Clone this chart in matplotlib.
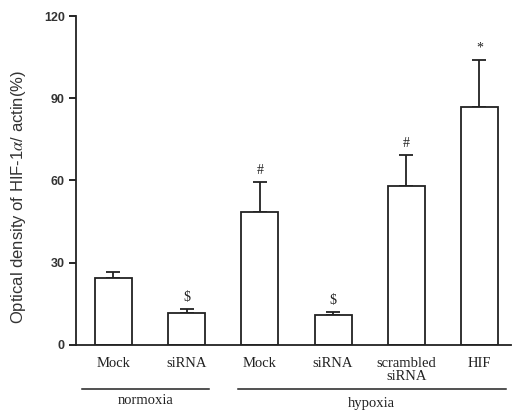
import numpy as np
import matplotlib.pyplot as plt

plt.rcParams['mathtext.fontset'] = 'stix'

# values
labels = ['Mock', 'siRNA', 'Mock', 'siRNA', 'scrambled\nsiRNA', 'HIF']
means = [24.4, 11.5, 48.6, 10.9, 58.0, 86.9]
sem = [2.3, 1.4, 10.8, 0.9, 11.2, 17.0]
marks = ['', '$', '#', '$', '#', '*']
groups = ['normoxia', 'hypoxia']
group_span = [(-0.43, 1.3), (1.7, 5.36)]

x = np.arange(len(means))

fig = plt.figure(figsize=(5.14, 4.11), dpi=100)
ax = fig.add_axes([0.148, 0.161, 0.846, 0.800])

ax.bar(x, means, width=0.505, color='white', edgecolor='#222222', linewidth=1.3, zorder=2)
ax.errorbar(x, means, yerr=[np.zeros(len(sem)), sem], fmt='none', ecolor='#222222',
            elinewidth=1.3, capsize=5, capthick=1.3, zorder=1)

for xi, m, s, t in zip(x, means, sem, marks):
    if t:
        ax.annotate(t, (xi, m + s), xytext=(0, 4), textcoords='offset points',
                    ha='center', va='bottom', fontsize=10, family='Liberation Serif',
                    color='#222222')

ax.set_xlim(-0.51, 5.43)
ax.set_ylim(0, 120)
ax.set_yticks([0, 30, 60, 90, 120])
ax.set_xticks(x)
ax.set_xticklabels(labels, family='Liberation Serif', fontsize=10.5, color='#222222',
                   linespacing=0.95)
ax.tick_params(axis='x', length=0, pad=9)
ax.tick_params(axis='y', length=5, width=1.2, labelsize=9, direction='out', pad=3)
for lab in ax.get_yticklabels():
    lab.set_fontweight('bold')
    lab.set_family('Liberation Sans')
    lab.set_color('#333333')

for side in ['top', 'right']:
    ax.spines[side].set_visible(False)
for side in ['left', 'bottom']:
    ax.spines[side].set_linewidth(1.3)
    ax.spines[side].set_color('#222222')

ax.set_ylabel('Optical density of HIF-1$\\alpha$/ actin(%)', fontsize=12,
              family='Liberation Sans', color='#333333')
ax.yaxis.set_label_coords(-0.11, 0.45)

# group lines and labels under the axis
trans = ax.get_xaxis_transform()
for i, (g, (a, b)) in enumerate(zip(groups, group_span)):
    ax.plot([a, b], [-0.133, -0.133], transform=trans, color='#222222', lw=1.1,
            clip_on=False)
    ax.text((a + b) / 2, -0.15 - 0.01 * i, g, transform=trans, ha='center', va='top',
            family='Liberation Serif', fontsize=10.5, color='#222222')

fig.savefig('out.png', dpi=100)
